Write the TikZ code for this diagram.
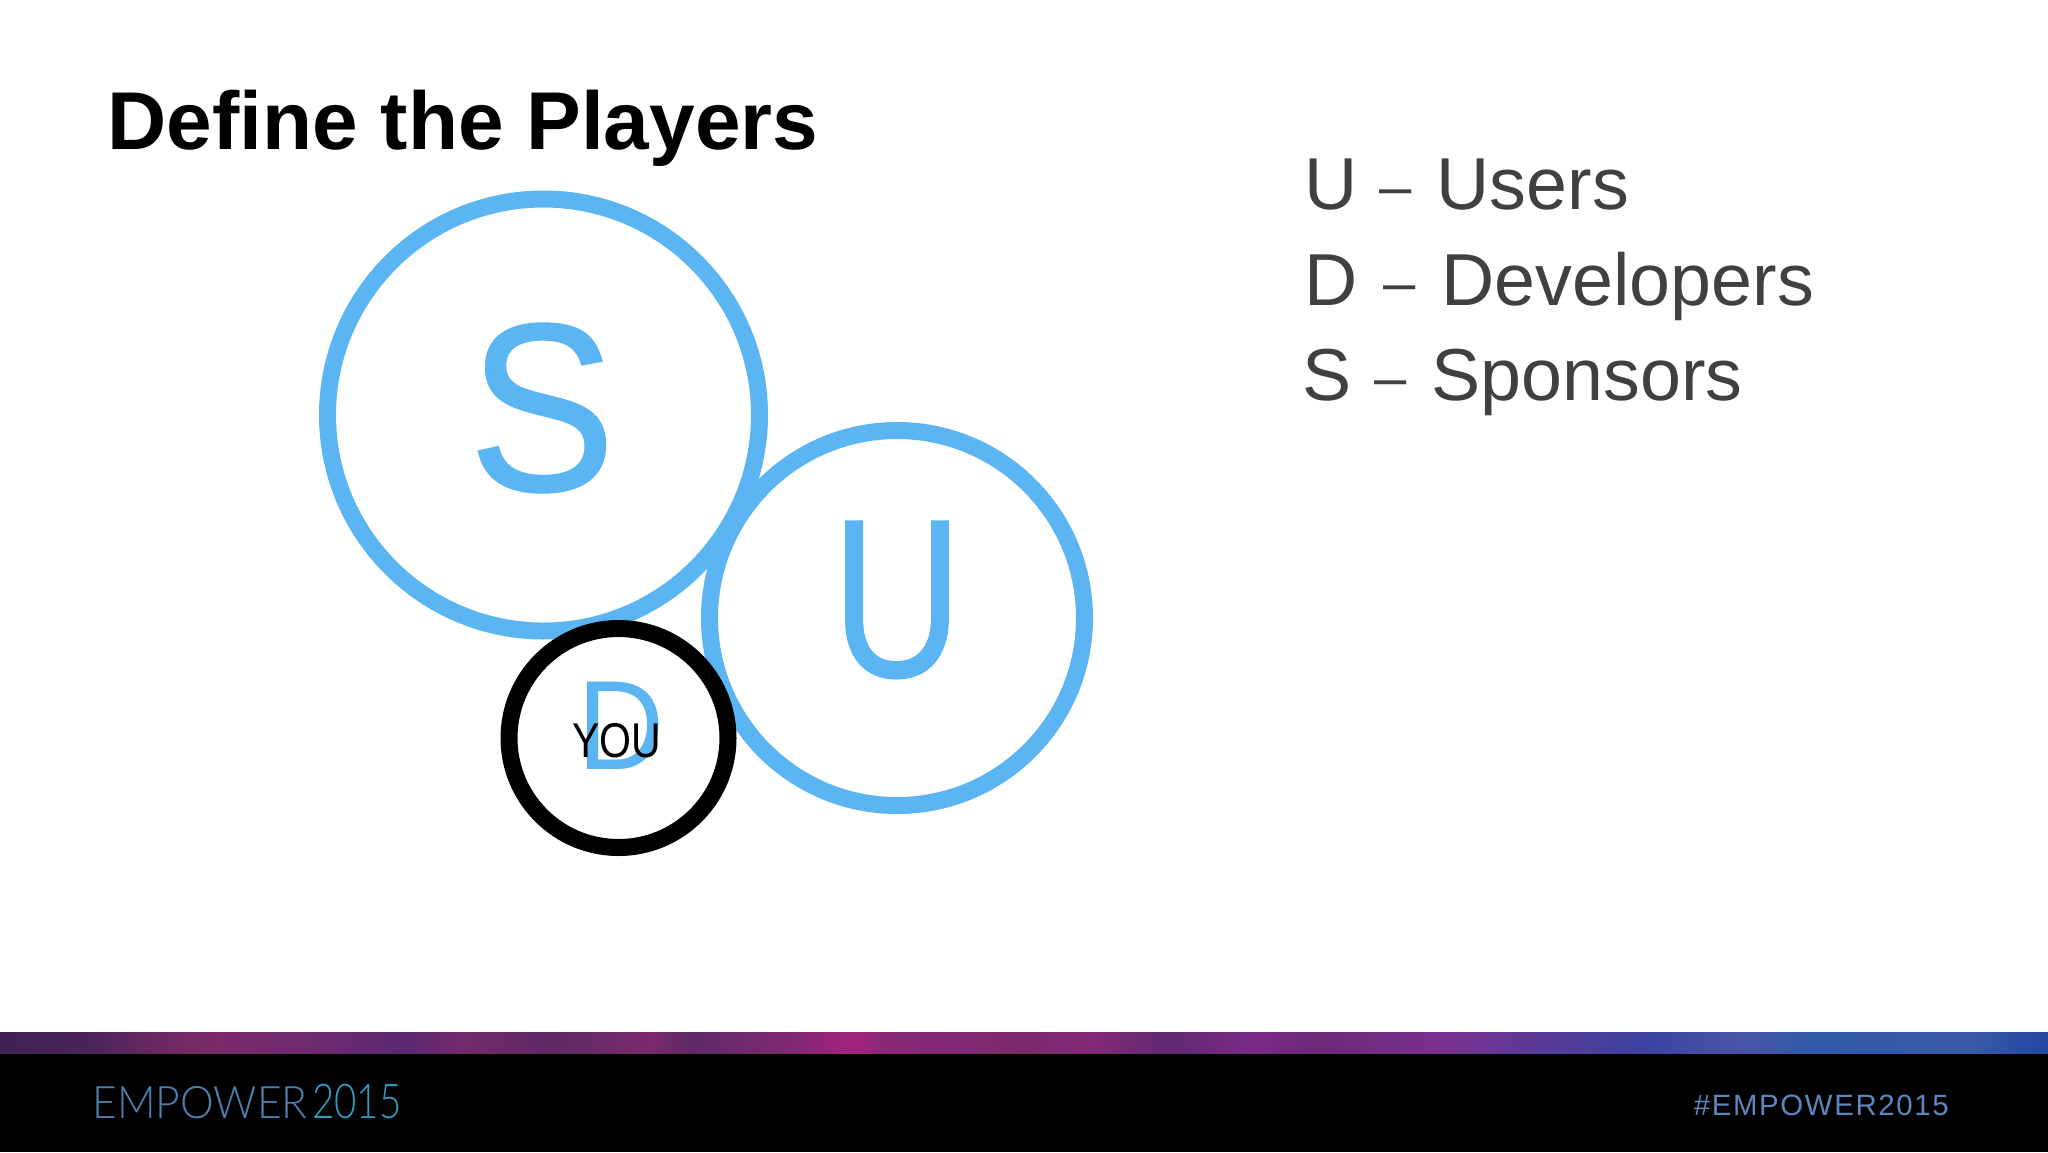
\documentclass[tikz,border=0pt]{standalone}
\usepackage{fontspec}
\setmainfont{Liberation Sans}
\newfontfamily\logofont[UprightFont=* Light]{Lato}
\usetikzlibrary{positioning}
\definecolor{playerblue}{HTML}{5AB5F2}
\definecolor{legendgrey}{HTML}{404040}
\definecolor{tagblue}{HTML}{5C86BE}
\definecolor{logoblue}{HTML}{4F7FAE}
\definecolor{logoteal}{HTML}{2F9CC4}
\pgfdeclarehorizontalshading{empowerbar}{100bp}{
  rgb(0bp)=(0.25,0.13,0.33);
  rgb(25bp)=(0.25,0.13,0.33);
  rgb(27.2bp)=(0.29,0.14,0.35);
  rgb(28.9bp)=(0.42,0.16,0.38);
  rgb(30.25bp)=(0.48,0.16,0.41);
  rgb(33.06bp)=(0.42,0.16,0.44);
  rgb(34.89bp)=(0.35,0.16,0.44);
  rgb(36.23bp)=(0.45,0.16,0.42);
  rgb(38.43bp)=(0.37,0.16,0.40);
  rgb(40.87bp)=(0.48,0.16,0.42);
  rgb(41.85bp)=(0.37,0.16,0.40);
  rgb(44.17bp)=(0.49,0.16,0.44);
  rgb(45.87bp)=(0.64,0.14,0.49);
  rgb(46.61bp)=(0.54,0.16,0.47);
  rgb(50bp)=(0.48,0.16,0.43);
  rgb(51.6bp)=(0.52,0.16,0.47);
  rgb(53.52bp)=(0.37,0.16,0.44);
  rgb(55.59bp)=(0.48,0.16,0.53);
  rgb(57.18bp)=(0.42,0.16,0.47);
  rgb(60.2bp)=(0.48,0.19,0.56);
  rgb(62.74bp)=(0.35,0.23,0.60);
  rgb(65.31bp)=(0.23,0.27,0.63);
  rgb(67.53bp)=(0.29,0.33,0.65);
  rgb(69.14bp)=(0.18,0.35,0.65);
  rgb(73.12bp)=(0.22,0.35,0.65);
  rgb(75bp)=(0.13,0.28,0.63);
  rgb(100bp)=(0.13,0.28,0.63)}
\newcommand{\legenddash}[2]{\hspace{#1}\raisebox{1.5pt}{\fontsize{29}{29}\selectfont --}\hspace{#2}}
\tikzset{
  player/.style={circle, draw=playerblue, line width=8.5pt, fill=white, inner sep=0pt},
  bigletter/.style={text=playerblue, inner sep=0pt},
  legend/.style={anchor=base west, inner sep=0pt, text=legendgrey, font=\fontsize{36.8}{36.8}\selectfont},
  footer/.style={anchor=base west, inner sep=0pt},
}
\begin{document}
\begin{tikzpicture}[x=0.5pt, y=-0.5pt]
\useasboundingbox (0,0) rectangle (2048,1152);
\fill[white] (0,0) rectangle (2048,1152);

% footer
\fill[black] (0,1053) rectangle (2048,1152);
\shade[shading=empowerbar] (0,1032) rectangle (2048,1053);

% the three circles
\node[player, minimum size=375pt/2] (circleU) at (897,618) {};
\node[player, minimum size=432pt/2] (circleS) at (543.5,415) {};
\node[player, draw=black, minimum size=219pt/2] (circleD) at (618.5,738) {};

\node[bigletter, font=\fontsize{120}{120}\selectfont] (letterS) at (542,408) {\scalebox{0.92}[1]{\addfontfeature{FakeBold=0.6}S}};
\node[bigletter, font=\fontsize{113}{113}\selectfont] (letterU) at (897,600) {\scalebox{0.8}[1]{\addfontfeature{FakeBold=0.6}U}};
\node[bigletter, font=\fontsize{63.5}{63.5}\selectfont] (letterD) at (621,726) {\scalebox{0.95}[1]{D}};
\node[inner sep=0pt, font=\fontsize{24.4}{24.4}\selectfont] (you) at (617,741) {\scalebox{0.84}[1]{YOU}};

% title and legend
\node[anchor=base west, inner sep=0pt, font=\bfseries\fontsize{41}{41}\selectfont] (title) at (107,149) {Define the Players};
\node[legend] (legendU) at (1304,209) {U\legenddash{11pt}{12.5pt}Users};
\node[legend] (legendD) at (1304,305) {D\legenddash{13pt}{13pt}Developers};
\node[legend] (legendS) at (1302,400) {S\legenddash{11.5pt}{12.5pt}Sponsors};

% footer texts
\node[footer, text=logoblue, font=\logofont\fontsize{22.4}{22.4}\selectfont] (logo) at (92,1118) {\scalebox{0.95}[1]{EMPOWER}};
\node[footer, text=logoteal, font=\logofont\fontsize{24}{24}\selectfont] (logoYear) at (312,1118) {\scalebox{0.8}[1]{2015}};
\node[anchor=base east, inner sep=0pt, text=tagblue, font=\fontsize{14.7}{14.7}\selectfont] (hashtag) at (1949,1115) {\addfontfeature{LetterSpace=5.5}\#EMPOWER2015};
\end{tikzpicture}
\end{document}
